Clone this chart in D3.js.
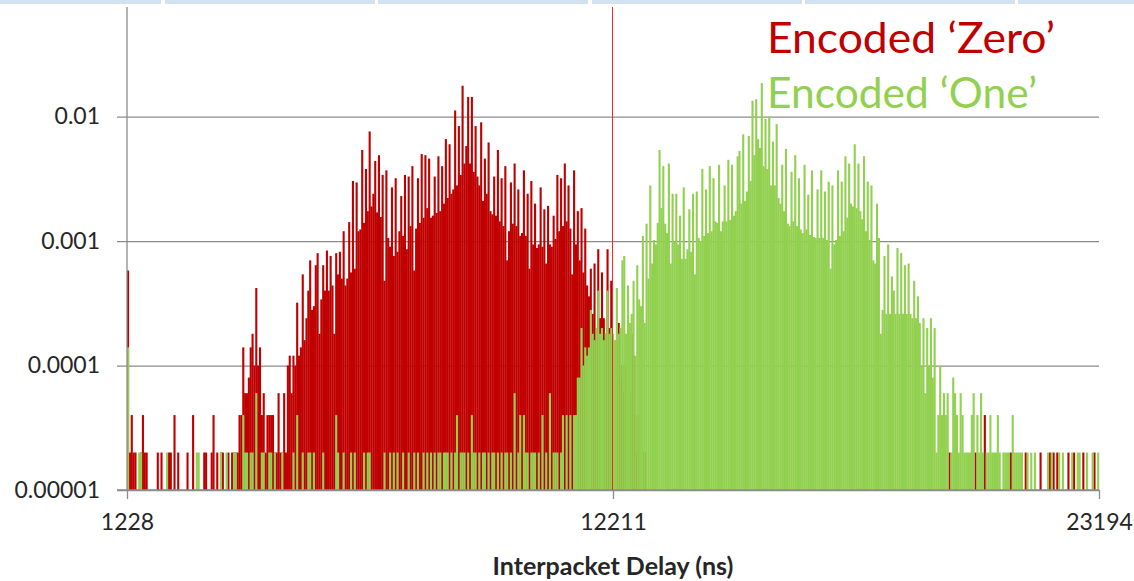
<!DOCTYPE html>
<html>
<head>
<meta charset="utf-8">
<script src="https://cdn.jsdelivr.net/npm/d3@7"></script>
<style>
  html, body { margin: 0; padding: 0; background: #ffffff; }
  svg { display: block; }
  text { font-family: Lato, "Open Sans", "DejaVu Sans", sans-serif; }
</style>
</head>
<body>
<svg id="chart" width="1134" height="581"></svg>
<script>
// Histogram of inter-packet delays: 42 ns bins from 1228 ns to 23194 ns,
// counts out of sampleTotal packets per encoded bit value.
const binStart = 1228;
const binWidth = 42;
const sampleTotal = 50000;
const thresholdNs = 12211;

const xTicks = [1228, 12211, 23194];
const yTicks = [1e-5, 1e-4, 1e-3, 1e-2];
const yTickLabels = ["0.00001", "0.0001", "0.001", "0.01"];
const seriesNames = ["Encoded \u2018Zero\u2019", "Encoded \u2018One\u2019"];
const seriesColors = ["#c00000", "#92d050"];

// Packets that carried an encoded '0'
const zeroCounts = [
  29,1,2,1,1,0,0,1,2,1,  1,0,0,0,0,0,1,0,1,0,
  0,0,1,1,0,2,0,1,0,0,  0,0,1,0,0,2,0,0,0,0,
  0,1,1,0,0,1,2,0,1,0,  1,1,0,0,1,0,1,1,1,1,
  2,2,7,3,3,4,7,9,5,21,  5,7,2,3,1,2,2,2,2,1,
  1,3,1,1,3,1,5,6,3,6,  5,16,6,7,27,8,12,20,35,14,
  15,32,40,9,17,32,20,42,20,38,  22,9,40,27,41,25,60,22,25,71,
  28,152,30,148,60,62,270,70,190,87,  380,95,120,220,85,245,78,170,24,185,
  53,45,135,38,160,41,60,115,55,170,  43,165,66,200,29,63,160,70,250,77,
  245,92,230,77,80,165,84,240,87,200,  100,330,111,300,120,130,560,140,420,170,
  885,210,290,720,210,720,180,420,165,140,  450,105,230,120,310,87,82,165,80,270,
  72,160,66,200,35,60,148,69,210,66,  130,55,58,185,55,120,30,152,47,100,
  44,47,135,45,90,33,96,47,45,80,  52,170,60,160,66,210,72,140,63,27,
  185,47,87,35,92,28,63,22,18,30,  13,33,10,43,12,28,12,9,43,10,
  24,8,6,8,11,4,5,3,5,2,  3,9,6,2,1,2,0,1,1,0,
  0,0,0,0,0,0,0,0,0,0,0,0,0,0,0,0,0,0,0,0,
  0,0,0,0,0,0,0,0,0,0,0,0,0,0,0,0,0,0,0,0,
  0,0,0,0,0,0,0,0,0,0,0,0,0,0,0,0,0,0,0,0,
  0,0,0,0,0,0,0,0,0,0,0,0,0,0,0,0,0,0,0,0,
  0,0,0,0,0,0,0,0,0,0,0,0,0,0,0,0,0,0,0,0,
  0,0,0,0,0,0,0,0,0,0,0,0,0,0,0,0,0,0,0,0,
  0,0,0,0,0,0,0,0,0,0,0,0,0,0,0,0,0,0,0,0,
  0,0,0,0,0,0,0,0,0,0,0,0,0,0,0,0,0,0,0,0,
  0,0,1,0,0,0,0,0,0,0,0,0,0,0,0,0,1,0,0,0,
  0,2,0,0,0,0,0,0,0,0,0,0,0,0,0,1,0,0,0,0,
  0,0,0,1,0,0,0,0,0,0,0,1,0,0,0,0,1,0,1,0,
  1,0,0,0,0,0,1,0,0,1,0,0,0,0,1,0,0,0,0,0,
  1,0,0
];

// Packets that carried an encoded '1'
const oneCounts = [
  7,0,0,0,0,0,1,1,0,0,  0,0,0,0,0,0,0,0,0,0,
  0,1,0,0,0,0,0,0,0,0,  0,0,0,0,0,0,0,1,1,0,
  0,0,0,0,0,0,0,0,0,0,  1,0,0,1,0,0,0,1,1,0,
  0,0,2,1,1,0,1,1,0,3,  0,0,1,1,0,0,1,1,0,1,
  0,0,0,1,0,0,0,0,0,1,  0,2,0,0,1,0,0,1,1,0,
  1,0,0,0,0,1,0,0,0,0,  0,0,2,1,0,0,1,0,0,0,
  1,0,1,0,0,0,0,1,0,1,  1,0,0,0,0,0,0,0,1,0,
  0,1,0,1,0,1,0,0,1,0,  0,1,0,0,1,0,1,0,0,1,
  0,1,0,1,0,1,0,1,1,0,  1,1,1,0,1,0,1,2,0,1,
  1,1,0,1,0,2,1,1,0,1,  0,1,1,0,1,0,1,1,0,1,
  0,1,0,1,1,0,1,0,3,0,  1,2,0,2,1,1,0,1,1,1,
  0,1,0,2,0,1,0,3,0,1,  1,1,0,1,2,0,2,0,2,0,
  2,2,4,4,10,5,7,6,7,14,  9,8,10,20,9,10,8,9,20,9,
  10,9,8,21,9,10,35,38,9,22,  11,13,24,6,32,17,15,55,11,69,
  25,140,33,51,47,70,270,92,200,69,  58,210,33,120,50,120,47,80,36,135,
  36,43,90,41,120,27,125,53,50,190,  55,130,58,200,60,160,72,70,205,60,
  72,140,72,225,74,205,80,87,240,265,  100,360,105,125,350,152,670,245,690,330,
  280,930,200,480,190,500,140,315,140,435,  111,100,205,87,275,69,66,180,72,245,
  66,160,62,58,205,62,118,56,185,54,  53,130,53,185,53,125,51,150,30,140,
  47,51,185,55,150,60,240,77,210,100,  95,300,92,210,87,75,240,60,150,51,
  140,35,33,100,53,9,14,38,13,47,  13,26,20,13,44,13,40,13,32,13,
  33,13,12,24,12,18,11,5,12,3,  10,5,12,4,10,1,2,5,2,3,
  2,3,0,1,4,3,2,1,3,2,  1,1,1,1,2,3,0,2,1,3,
  1,0,1,1,2,1,1,1,2,1,  0,1,1,1,1,0,2,1,1,1,
  1,1,0,0,1,0,1,0,1,0,  0,0,0,0,0,1,0,1,0,0,
  0,1,0,1,0,0,0,0,1,0,  0,1,1,0,0,0,1,0,0,1,
  0,0,1
];

const svg = d3.select("#chart");

// Slide header strip above the chart
const headerCells = [[0, 161], [165, 375], [378, 588], [592, 802], [805, 1015], [1018, 1134]];
svg.append("g").selectAll("rect").data(headerCells).join("rect")
  .attr("x", d => d[0]).attr("y", 0)
  .attr("width", d => d[1] - d[0]).attr("height", 4)
  .attr("fill", "#d3e2f3");

const x = d3.scaleLinear().domain([xTicks[0], xTicks[xTicks.length - 1]]).range([127, 1099]);
const y = d3.scaleLog().domain([yTicks[0], 0.076]).range([490, 7]);

// Horizontal gridlines with left tick labels
const yAxis = d3.axisLeft(y)
  .tickValues(yTicks)
  .tickFormat((d, i) => yTickLabels[i])
  .tickSize(-(x.range()[1] - 117))
  .tickPadding(17);

const gy = svg.append("g").attr("transform", "translate(117,0)").call(yAxis);
gy.select(".domain").remove();
gy.selectAll(".tick line").attr("stroke", "#8c8c8c").attr("stroke-width", 1.3);
gy.selectAll(".tick text")
  .attr("fill", "#262626")
  .style("font-size", "23px")
  .style("font-family", "Lato, 'Open Sans', sans-serif");

// Histogram bars: 'Zero' first, 'One' drawn over it
const bw = x(binStart + binWidth) - x(binStart);
const allSeries = [zeroCounts, oneCounts];
allSeries.forEach((counts, s) => {
  const bins = counts.map((c, i) => ({ i, c })).filter(d => d.c > 0);
  svg.append("g").attr("class", "series-" + s)
    .selectAll("rect").data(bins).join("rect")
    .attr("x", d => x(binStart + d.i * binWidth))
    .attr("width", bw + 0.25)
    .attr("y", d => y(d.c / sampleTotal))
    .attr("height", d => y(yTicks[0]) - y(d.c / sampleTotal))
    .attr("fill", seriesColors[s]);
});

// Vertical axis line
svg.append("line")
  .attr("x1", x.range()[0]).attr("x2", x.range()[0])
  .attr("y1", y.range()[1]).attr("y2", y.range()[0])
  .attr("stroke", "#8c8c8c").attr("stroke-width", 1.3);

// Horizontal axis with category labels
const xAxis = d3.axisBottom(x)
  .tickValues(xTicks)
  .tickFormat(d3.format("d"))
  .tickSizeInner(9)
  .tickSizeOuter(0)
  .tickPadding(15);

const gx = svg.append("g").attr("transform", `translate(0,${y(yTicks[0])})`).call(xAxis);
gx.select(".domain").attr("stroke", "#8c8c8c").attr("stroke-width", 1.3)
  .attr("d", `M117,0H${x.range()[1]}`);
gx.selectAll(".tick line").attr("stroke", "#8c8c8c").attr("stroke-width", 1.3);
gx.selectAll(".tick text")
  .attr("fill", "#262626")
  .style("font-size", "23px")
  .style("font-family", "Lato, 'Open Sans', sans-serif");

// Decision threshold between the two encodings
const tx = Math.round(x(thresholdNs)) - 0.5;
svg.append("line")
  .attr("x1", tx).attr("x2", tx)
  .attr("y1", y.range()[1]).attr("y2", y.range()[0])
  .attr("stroke", "#f02a2a").attr("stroke-width", 1);

// Axis title
svg.append("text")
  .attr("x", (x.range()[0] + x.range()[1]) / 2)
  .attr("y", 575)
  .attr("text-anchor", "middle")
  .attr("fill", "#262626")
  .style("font-size", "25px")
  .style("font-weight", "bold")
  .text("Interpacket Delay (ns)");

// Series labels
const labelWidths = [288, 270];
svg.append("g").selectAll("text").data(seriesNames).join("text")
  .attr("x", 767)
  .attr("y", (d, i) => 53 + i * 55)
  .attr("fill", (d, i) => seriesColors[i])
  .attr("textLength", (d, i) => labelWidths[i])
  .attr("lengthAdjust", "spacingAndGlyphs")
  .style("font-size", "43px")
  .text(d => d);
</script>
</body>
</html>
